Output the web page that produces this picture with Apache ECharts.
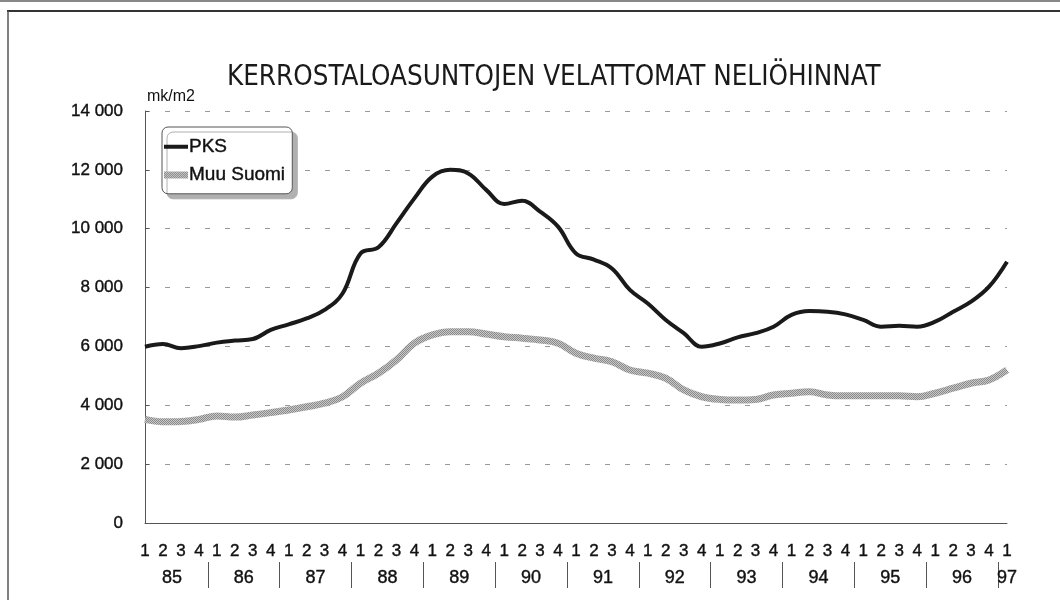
<!DOCTYPE html>
<html>
<head>
<meta charset="utf-8">
<script src="https://cdn.jsdelivr.net/npm/echarts@6/dist/echarts.min.js"></script>
<style>html,body{margin:0;padding:0;background:#fff;}#c{width:1060px;height:600px;}</style>
</head>
<body>
<div id="c"></div>
<script>
var titleText = 'KERROSTALOASUNTOJEN VELATTOMAT NELIÖHINNAT';
var unitText = 'mk/m2';
var years = ['85','86','87','88','89','90','91','92','93','94','95','96','97'];
var quarterNames = ['1','2','3','4'];
var seriesNames = ['PKS', 'Muu Suomi'];
var pks = [5990, 6080, 5940, 6010, 6130, 6200, 6250, 6560, 6750, 6950,
           7240, 7800, 9160, 9370, 10180, 11030, 11770, 12000, 11880, 11320,
           10840, 10950, 10580, 10070, 9160, 8950, 8650, 7920, 7460, 6900,
           6450, 5990, 6100, 6310, 6450, 6670, 7070, 7200, 7180, 7090,
           6900, 6670, 6700, 6670, 6840, 7180, 7520, 8030, 8880];
var muu = [3520, 3440, 3450, 3520, 3640, 3600, 3670, 3750, 3840, 3950,
           4070, 4290, 4750, 5090, 5540, 6110, 6390, 6500, 6500, 6420,
           6330, 6280, 6220, 6110, 5770, 5600, 5480, 5200, 5090, 4920,
           4520, 4290, 4200, 4180, 4200, 4350, 4410, 4460, 4350, 4320,
           4320, 4320, 4320, 4290, 4410, 4580, 4750, 4860, 5200];
var yMin = 0, yMax = 14000, yStep = 2000;

var quarters = [];
for (var y = 0; y < years.length; y++) {
  for (var q = 0; q < 4; q++) {
    if (y === years.length - 1 && q > 0) break;
    quarters.push(quarterNames[q]);
  }
}
var halfSteps = [];
for (var i = 0; i < quarters.length * 2 - 1; i++) {
  halfSteps.push(years[Math.floor(i / 8)]);
}
var lastHalf = halfSteps.length - 1;

// stippled texture for the grey line
var tex = document.createElement('canvas');
tex.width = 2; tex.height = 2;
var tctx = tex.getContext('2d');
tctx.fillStyle = '#c8c8c8'; tctx.fillRect(0, 0, 2, 2);
tctx.fillStyle = '#8a8a8a'; tctx.fillRect(0, 0, 1, 1); tctx.fillRect(1, 1, 1, 1);
var muuColor = {image: tex, repeat: 'repeat'};

var font = "'Liberation Sans', Arial, sans-serif";
var pksIcon = 'path://M0,0h0.01v0.01h-0.01z M0,5h24v4h-24z M23.99,13.99h0.01v0.01h-0.01z';
var muuIcon = 'path://M0,0h0.01v0.01h-0.01z M0,3.5h24v7h-24z M23.99,13.99h0.01v0.01h-0.01z';
var bold = {textBorderColor: '#111', textBorderWidth: 0.4};

var chart = echarts.init(document.getElementById('c'), null, {renderer: 'canvas'});
chart.setOption({
  animation: false,
  backgroundColor: '#fff',
  title: {
    text: titleText,
    left: 222,
    top: 59,
    textStyle: {fontFamily: "'Liberation Sans Narrow', 'DejaVu Sans Condensed', sans-serif", fontSize: 27.5, fontWeight: 'normal', color: '#1a1a1a'}
  },
  graphic: [
    {type: 'line', shape: {x1: 0, y1: 1, x2: 1060, y2: 1}, style: {stroke: '#888', lineWidth: 2}},
    {type: 'line', shape: {x1: 7, y1: 11, x2: 1060, y2: 11}, style: {stroke: '#333', lineWidth: 2}},
    {type: 'line', shape: {x1: 8, y1: 11, x2: 8, y2: 600}, style: {stroke: '#555', lineWidth: 1.5}}
  ],
  legend: {
    orient: 'vertical',
    left: 162,
    top: 127,
    data: [
      {name: seriesNames[0], icon: pksIcon},
      {name: seriesNames[1], icon: muuIcon}
    ],
    itemWidth: 26,
    itemHeight: 14,
    itemGap: 9,
    padding: [10, 7, 9, 2],
    backgroundColor: '#fff',
    borderColor: '#555',
    borderWidth: 1,
    borderRadius: 6,
    shadowColor: '#b0b0b0',
    shadowBlur: 0,
    shadowOffsetX: 5,
    shadowOffsetY: 5,
    textStyle: Object.assign({fontFamily: font, fontSize: 19, color: '#111', padding: [0, 0, 0, -5]}, bold)
  },
  grid: {left: 145, right: 53, top: 111, bottom: 77, containLabel: false},
  xAxis: [
    {
      type: 'category',
      data: quarters,
      boundaryGap: false,
      axisLine: {lineStyle: {color: '#555', width: 1}},
      axisTick: {show: false},
      axisLabel: Object.assign({interval: 0, margin: 20, fontFamily: font, fontSize: 17, color: '#111'}, bold),
      splitLine: {show: false}
    },
    {
      type: 'category',
      data: halfSteps,
      boundaryGap: false,
      position: 'bottom',
      offset: 39,
      axisLine: {show: false},
      axisTick: {
        show: true,
        length: 26,
        interval: function (idx) { return idx % 8 === 7; },
        lineStyle: {color: '#555', width: 1}
      },
      axisLabel: Object.assign({
        interval: function (idx) { return idx % 8 === 3 || idx === lastHalf; },
        margin: 7,
        fontFamily: font, fontSize: 18, color: '#111'
      }, bold),
      splitLine: {show: false}
    }
  ],
  yAxis: {
    type: 'value',
    min: yMin,
    max: yMax,
    interval: yStep,
    name: unitText,
    nameLocation: 'end',
    nameGap: 6,
    nameTextStyle: {fontFamily: font, fontSize: 16, color: '#111', align: 'left', padding: [0, 0, 0, 2]},
    axisLine: {show: true, lineStyle: {color: '#555', width: 1}},
    axisTick: {show: true, inside: true, length: 4, lineStyle: {color: '#555'}},
    axisLabel: Object.assign({
      margin: 22,
      fontFamily: font, fontSize: 17, color: '#111',
      formatter: function (v) { return String(v).replace(/\B(?=(\d{3})+(?!\d))/g, ' '); }
    }, bold),
    splitLine: {show: true, lineStyle: {color: '#999', width: 1, type: [5, 15]}}
  },
  series: [
    {
      name: seriesNames[1],
      type: 'line',
      data: muu,
      smooth: 0.4,
      symbol: 'none',
      lineStyle: {color: muuColor, width: 7},
      itemStyle: {color: muuColor},
      z: 2
    },
    {
      name: seriesNames[0],
      type: 'line',
      data: pks,
      smooth: 0.4,
      symbol: 'none',
      lineStyle: {color: '#1a1a1a', width: 4},
      itemStyle: {color: '#1a1a1a'},
      z: 3
    }
  ]
});
</script>
</body>
</html>
